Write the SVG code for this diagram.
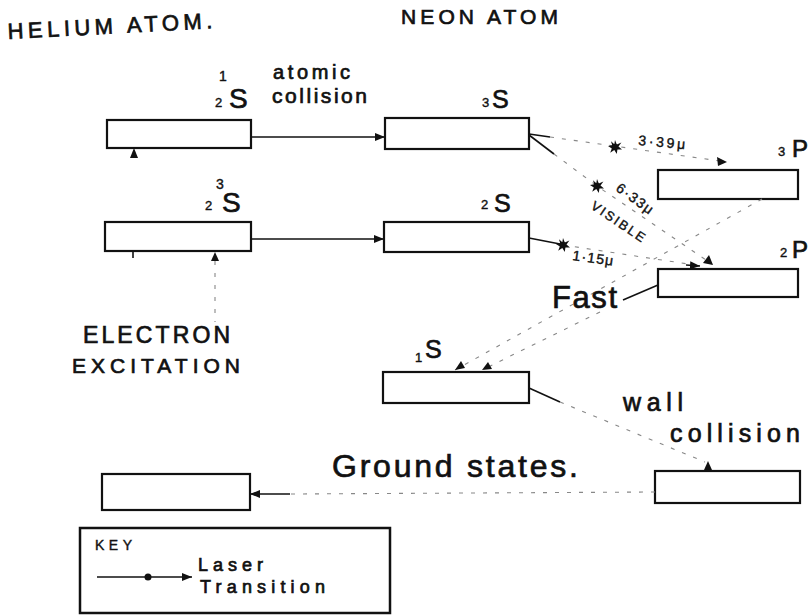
<svg xmlns="http://www.w3.org/2000/svg" width="812" height="616" viewBox="0 0 812 616">
<style>
.box{fill:#fff;stroke:#111;stroke-width:2.2}
.key{fill:#fff;stroke:#111;stroke-width:2.5}
.t{font-family:"Liberation Sans","DejaVu Sans",sans-serif;fill:#111;stroke:#111;stroke-width:0.7}
.sm{stroke-width:0.4}
.s{stroke:#111;stroke-width:1.6;fill:none}
.d{stroke:#888;stroke-width:1.1;fill:none;stroke-dasharray:4 8}
.f{fill:#111}
</style>
<defs>
<marker id="ah" viewBox="0 0 10 8" refX="10" refY="4" markerWidth="10" markerHeight="8" orient="auto" markerUnits="userSpaceOnUse"><path d="M0,0 L10,4 L0,8 z" fill="#111"/></marker>
<g id="star"><path d="M0,-7 L1.8,-2.4 L6.4,-4.6 L3.5,-0.6 L7,2.4 L2.4,2.6 L1.8,7 L-0.7,3 L-4.8,5.8 L-3.2,1.4 L-7,-1 L-2.8,-1.8 L-4,-5.8 L-0.7,-2.8 z" fill="#111"/><circle r="3" fill="#111"/></g>
</defs>

<text class="t" x="8" y="39" font-size="22" textLength="205" lengthAdjust="spacing" transform="rotate(-3 8 39)">HELIUM ATOM.</text>
<text class="t" x="401" y="24" font-size="21" textLength="157" lengthAdjust="spacing">NEON ATOM</text>

<g id="he-1s">
<rect class="box" x="107" y="120" width="144" height="28"/>
<text class="t" x="229" y="108" font-size="28">S</text>
<text class="t sm" x="219" y="81" font-size="14">1</text>
<text class="t sm" x="215" y="107" font-size="13">2</text>
</g>
<g id="he-3s">
<rect class="box" x="105" y="222" width="146" height="29"/>
<text class="t" x="222" y="212" font-size="28">S</text>
<text class="t sm" x="216" y="189" font-size="14">3</text>
<text class="t sm" x="205" y="210" font-size="13">2</text>
</g>
<g id="he-ground">
<rect class="box" x="102" y="474" width="148" height="36"/>
</g>
<g id="ne-3s">
<rect class="box" x="385" y="118" width="144" height="31"/>
<text class="t sm" x="482" y="107" font-size="13">3</text>
<text class="t" x="492" y="108" font-size="25">S</text>
</g>
<g id="ne-2s">
<rect class="box" x="384" y="222" width="145" height="30"/>
<text class="t sm" x="481" y="209" font-size="13">2</text>
<text class="t" x="494" y="212" font-size="25">S</text>
</g>
<g id="ne-1s">
<rect class="box" x="383" y="372" width="146" height="31"/>
<text class="t sm" x="415" y="362" font-size="13">1</text>
<text class="t" x="425" y="358" font-size="25">S</text>
</g>
<g id="ne-3p">
<rect class="box" x="658" y="170" width="140" height="29"/>
<text class="t sm" x="778" y="156" font-size="13">3</text>
<text class="t" x="792" y="157" font-size="24">P</text>
</g>
<g id="ne-2p">
<rect class="box" x="658" y="269" width="140" height="28"/>
<text class="t sm" x="780" y="257" font-size="13">2</text>
<text class="t" x="792" y="258" font-size="24">P</text>
</g>
<g id="wall-box">
<rect class="box" x="655" y="471" width="145" height="32"/>
</g>

<g id="connectors">
<line class="s" x1="252" y1="137" x2="385" y2="137" marker-end="url(#ah)"/>
<line class="s" x1="251" y1="239" x2="384" y2="239" marker-end="url(#ah)"/>
<path class="f" d="M134,148 L130,158 L138,158 z"/>
<line class="s" x1="133" y1="251" x2="133" y2="258"/>
<path class="f" d="M215,252 L211,261 L219,261 z"/>
<line class="d" x1="215" y1="261" x2="215" y2="322" stroke="#555" stroke-dasharray="3 5"/>
<line class="s" x1="529" y1="134" x2="550" y2="137" stroke-width="1"/>
<line class="d" x1="550" y1="137" x2="727" y2="162"/>
<path class="f" d="M727,162 L717,157 L718,166 z"/>
<use href="#star" x="615" y="147"/>
<line class="s" x1="529" y1="135" x2="554" y2="154" stroke-width="1"/>
<path class="d" d="M554,154 L597,186 L712,264"/>
<path class="f" d="M713,265 L703,263 L709,255 z"/>
<use href="#star" x="597" y="186"/>
<line class="s" x1="529" y1="238" x2="560" y2="244"/>
<path class="d" d="M563,245 L688,264"/>
<line class="s" x1="686" y1="265" x2="700" y2="266" marker-end="url(#ah)"/>
<use href="#star" x="563" y="245"/>
<line class="d" x1="762" y1="199" x2="455" y2="370"/>
<path class="f" d="M455,370 L461,361 L465,368 z"/>
<line class="s" x1="658" y1="285" x2="623" y2="300" stroke-width="1.3"/>
<line class="d" x1="600" y1="312" x2="482" y2="370"/>
<path class="f" d="M482,370 L488,362 L492,369 z"/>
<line class="s" x1="529" y1="388" x2="560" y2="402" stroke-width="1"/>
<line class="d" x1="560" y1="402" x2="705" y2="462" stroke="#bbb"/>
<path class="f" d="M708,461 L704,470 L712,470 z"/>
<line class="d" x1="655" y1="492" x2="290" y2="494"/>
<line class="s" x1="290" y1="494" x2="250" y2="494" marker-end="url(#ah)"/>
</g>

<text class="t" x="273" y="79" font-size="20" textLength="77" lengthAdjust="spacing">atomic</text>
<text class="t" x="272" y="103" font-size="21" textLength="95" lengthAdjust="spacing">collision</text>
<text class="t sm" x="638" y="145" font-size="14" textLength="47" lengthAdjust="spacing" transform="rotate(5 638 145)">3·39μ</text>
<text class="t sm" x="615" y="190" font-size="14" textLength="42" lengthAdjust="spacing" transform="rotate(36 615 190)">6·33μ</text>
<text class="t sm" x="590" y="208" font-size="13" textLength="62" lengthAdjust="spacing" transform="rotate(34 590 208)">VISIBLE</text>
<text class="t sm" x="572" y="260" font-size="14" textLength="41" lengthAdjust="spacing" transform="rotate(8 572 260)">1·15μ</text>
<text class="t" x="552" y="308" font-size="31" textLength="65" lengthAdjust="spacing">Fast</text>
<text class="t" x="83" y="343" font-size="23" textLength="147" lengthAdjust="spacing">ELECTRON</text>
<text class="t" x="72" y="373" font-size="21" textLength="168" lengthAdjust="spacing">EXCITATION</text>
<text class="t" x="623" y="411" font-size="25" textLength="60" lengthAdjust="spacing">wall</text>
<text class="t" x="670" y="442" font-size="25" textLength="130" lengthAdjust="spacing">collision</text>
<text class="t" x="332" y="477" font-size="32" textLength="246" lengthAdjust="spacing">Ground states.</text>

<g id="key">
<rect class="key" x="80" y="528" width="310" height="85"/>
<text class="t sm" x="95" y="550" font-size="14" textLength="37" lengthAdjust="spacing">KEY</text>
<line class="s" x1="97" y1="577" x2="192" y2="577" marker-end="url(#ah)"/>
<circle cx="148" cy="577" r="3.5" fill="#111"/>
<text class="t" x="198" y="571" font-size="18" textLength="65" lengthAdjust="spacing">Laser</text>
<text class="t" x="200" y="593" font-size="18" textLength="125" lengthAdjust="spacing">Transition</text>
</g>
</svg>
